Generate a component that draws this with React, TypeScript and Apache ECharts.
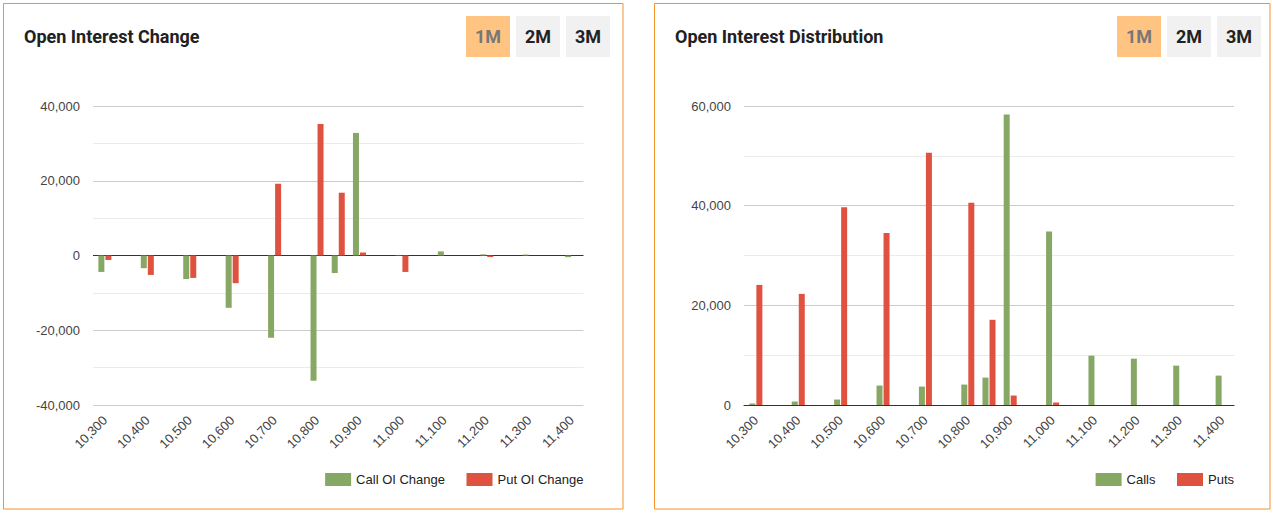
import React, { useEffect, useRef } from "react";
import * as echarts from "echarts";

const strikes = [10300, 10400, 10500, 10600, 10700, 10800, 10850, 10900, 11000, 11100, 11200, 11300, 11400];
const callOIChange = [-4400, -3400, -6300, -14000, -22000, -33500, -4700, 32800, -100, 1100, 300, 250, -450];
const putOIChange = [-1200, -5200, -6000, -7400, 19200, 35200, 16800, 800, -4400, 0, -400, 0, 0];
const callsOI = [300, 700, 1100, 3900, 3700, 4100, 5500, 58300, 34800, 9900, 9300, 7900, 5900];
const putsOI = [24100, 22300, 39700, 34500, 50600, 40600, 17100, 1900, 500, 0, 0, 0, 0];
const xTickValues = [10300, 10400, 10500, 10600, 10700, 10800, 10900, 11000, 11100, 11200, 11300, 11400];
const buttonLabels = ["1M", "2M", "3M"];

const GREEN = "#87a764";
const RED = "#e05240";
const ORANGE = "#f4922c";

const fmt = (v: number) => Number(v).toLocaleString("en-US");
const pairs = (vals: number[]) => strikes.map((s, i) => [s, vals[i]]);

function buttons(startX: number) {
  const els: any[] = [];
  buttonLabels.forEach((lab, i) => {
    const x = startX + i * 50;
    els.push({
      type: "rect",
      shape: { x, y: 16, width: 44, height: 41 },
      style: { fill: i === 0 ? "#ffc482" : "#f1f1f1" },
    });
    els.push({
      type: "text",
      style: {
        text: lab,
        x: x + 22,
        y: 36.5,
        align: "center",
        verticalAlign: "middle",
        textAlign: "center",
        textVerticalAlign: "middle",
        font: "bold 18px Roboto",
        fill: i === 0 ? "#777777" : "#222222",
      },
    });
  });
  return els;
}

export default function App() {
  const ref = useRef<HTMLDivElement>(null);
  useEffect(() => {
    if (!ref.current) return;
    const chart = echarts.init(ref.current, null, { renderer: "svg" });
    const axisLabelBase = { fontSize: 13, color: "#444444", fontFamily: "Liberation Sans, Arial, sans-serif" };
    const xAxisBase = (gi: number, showLine: boolean) => ({
      gridIndex: gi,
      type: "value",
      min: 10272,
      max: 11428,
      splitLine: { show: false },
      axisTick: { show: false },
      axisLine: { show: showLine, onZero: false, lineStyle: { color: "#333333", width: 1 } },
      axisLabel: { ...axisLabelBase, customValues: xTickValues, rotate: 45, margin: 13, formatter: fmt },
    });
    const legendBase = {
      top: 473,
      padding: 0,
      itemWidth: 26,
      itemHeight: 13,
      itemGap: 21.5,
      icon: "rect",
      selectedMode: false,
      textStyle: { fontSize: 13, color: "#222222", fontFamily: "Liberation Sans, Arial, sans-serif" },
    };
    const option: any = {
      animation: false,
      textStyle: { fontFamily: "Liberation Sans, Arial, sans-serif" },
      grid: [
        { left: 93, top: 106, width: 490.5, height: 299 },
        { left: 744, top: 106, width: 490, height: 299 },
      ],
      xAxis: [xAxisBase(0, false), xAxisBase(1, true)],
      yAxis: [
        {
          gridIndex: 0,
          type: "value",
          min: -40000,
          max: 40000,
          interval: 20000,
          axisLine: { show: false },
          axisTick: { show: false },
          axisLabel: { ...axisLabelBase, margin: 13, formatter: fmt },
          splitLine: { lineStyle: { color: ["#cccccc", "#cccccc", "#333333", "#cccccc", "#cccccc"] } },
          minorTick: { show: false, splitNumber: 2 },
          minorSplitLine: { show: true, lineStyle: { color: "#ebebeb" } },
        },
        {
          gridIndex: 1,
          type: "value",
          min: 0,
          max: 60000,
          interval: 20000,
          axisLine: { show: false },
          axisTick: { show: false },
          axisLabel: { ...axisLabelBase, margin: 13, formatter: fmt },
          splitLine: { lineStyle: { color: "#cccccc" } },
          minorTick: { show: false, splitNumber: 2 },
          minorSplitLine: { show: true, lineStyle: { color: "#ebebeb" } },
        },
      ],
      legend: [
        { ...legendBase, data: ["Call OI Change", "Put OI Change"], right: 1273 - 583.5 },
        { ...legendBase, data: ["Calls", "Puts"], right: 1273 - 1234 },
      ],
      series: [
        { name: "Call OI Change", type: "bar", xAxisIndex: 0, yAxisIndex: 0, data: pairs(callOIChange), barWidth: 6, barGap: "17%", itemStyle: { color: GREEN } },
        { name: "Put OI Change", type: "bar", xAxisIndex: 0, yAxisIndex: 0, data: pairs(putOIChange), barWidth: 6, barGap: "17%", itemStyle: { color: RED } },
        { name: "Calls", type: "bar", xAxisIndex: 1, yAxisIndex: 1, data: pairs(callsOI), barWidth: 6, barGap: "17%", itemStyle: { color: GREEN } },
        { name: "Puts", type: "bar", xAxisIndex: 1, yAxisIndex: 1, data: pairs(putsOI), barWidth: 6, barGap: "17%", itemStyle: { color: RED } },
      ],
      graphic: {
        elements: [
          { type: "rect", z: -10, shape: { x: 3.5, y: 3.5, width: 619.5, height: 505.5 }, style: { fill: "none", stroke: ORANGE, lineWidth: 1 } },
          { type: "rect", z: -10, shape: { x: 654.5, y: 3.5, width: 615.5, height: 505.5 }, style: { fill: "none", stroke: ORANGE, lineWidth: 1 } },
          {
            type: "text",
            style: { text: "Open Interest Change", x: 24, y: 36, verticalAlign: "middle", textVerticalAlign: "middle", font: "bold 18px Roboto", fill: "#212121" },
          },
          {
            type: "text",
            style: { text: "Open Interest Distribution", x: 675, y: 36, verticalAlign: "middle", textVerticalAlign: "middle", font: "bold 18px Roboto", fill: "#212121" },
          },
          ...buttons(466),
          ...buttons(1117),
        ],
      },
    };
    chart.setOption(option);
    return () => chart.dispose();
  }, []);
  return <div ref={ref} style={{ position: "absolute", left: 0, top: 0, width: 1273, height: 513 }} />;
}
